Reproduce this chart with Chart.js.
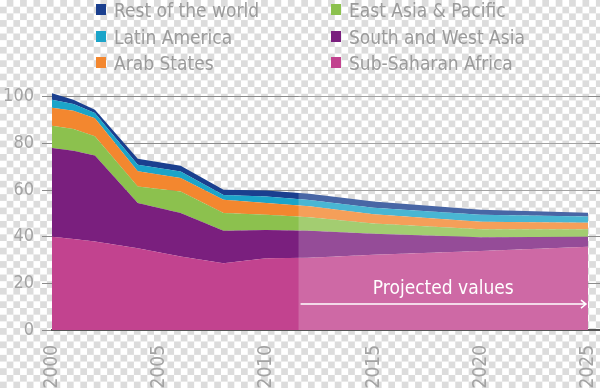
<!DOCTYPE html>
<html>
<head>
<meta charset="utf-8">
<script src="https://cdn.jsdelivr.net/npm/chart.js@4/dist/chart.umd.min.js"></script>
<style>
  html, body {
    margin: 0;
    padding: 0;
    width: 600px;
    height: 388px;
    overflow: hidden;
    background-color: #fff;
    background-image: repeating-conic-gradient(#dcdcdc 0% 25%, #ffffff 0% 50%);
    background-size: 13.4px 13.4px;
    font-family: "Liberation Sans Narrow", "DejaVu Sans Condensed", "Roboto", sans-serif;
  }
  #wrap { position: relative; width: 600px; height: 388px; }
  #chart { position: absolute; left: 0; top: 0; }
  .legend-col { position: absolute; top: -3px; }
  .legend-item {
    position: relative;
    height: 26.7px;
    line-height: 26.7px;
    font-size: 19px;
    color: #9b9b9b;
    padding-left: 18px;
    white-space: nowrap;
  }
  .legend-item span.box {
    position: absolute;
    left: 0;
    top: 7px;
    width: 10px;
    height: 11px;
  }
</style>
</head>
<body>
<div id="wrap">
  <canvas id="chart" width="600" height="388"></canvas>
  <div class="legend-col" id="legend-left" style="left:96px"></div>
  <div class="legend-col" id="legend-right" style="left:331px"></div>
</div>
<script>
// years with a visible break in the outline, actual data up to ~2011, projections after
const years = [2000, 2001, 2002, 2004, 2006, 2008, 2010, 2012, 2015, 2020, 2025];

// values per region (stacked from the bottom up)
const subSaharanAfrica = [40, 39, 37.9, 35, 31.5, 28.6, 30.8, 31, 32.2, 33.9, 35.7];
const southWestAsia    = [38, 37.8, 36.9, 19.4, 18.6, 13.9, 12.1, 11.5, 9.1, 5.9, 4.3];
const eastAsiaPacific  = [9.5, 9.3, 8.2, 7.1, 9.3, 7.6, 6.5, 5.8, 4.3, 3.4, 3.2];
const arabStates       = [7.7, 7.9, 7.8, 6.5, 5.7, 5.7, 5, 4.7, 4, 3.2, 2.8];
const latinAmerica     = [3.5, 2.9, 2.2, 2.8, 2.8, 2.1, 2.8, 2.7, 2.8, 3, 2.6];
const restOfWorld      = [2.8, 1.8, 1.4, 2.6, 2.5, 2.2, 2.6, 2.7, 2.7, 2.1, 1.7];

const seriesNames  = ["Sub-Saharan Africa", "South and West Asia", "East Asia & Pacific", "Arab States", "Latin America", "Rest of the world"];
const seriesColors = ["#c2438f", "#7a1f7e", "#8cc14e", "#f3872f", "#1ba4c9", "#1a3f8f"];
const seriesValues = [subSaharanAfrica, southWestAsia, eastAsiaPacific, arabStates, latinAmerica, restOfWorld];

const xTickYears = [2000, 2005, 2010, 2015, 2020, 2025];
const yTickValues = [0, 20, 40, 60, 80, 100];
const projectionStart = 2011.5;
const projectionEnd = 2025;
const projectionLabel = "Projected values";

// legend: two columns, same order as the original
const legendLeft = ["Rest of the world", "Latin America", "Arab States"];
const legendRight = ["East Asia & Pacific", "South and West Asia", "Sub-Saharan Africa"];

function fillLegend(id, names) {
    const col = document.getElementById(id);
    names.forEach(name => {
        const color = seriesColors[seriesNames.indexOf(name)];
        const div = document.createElement("div");
        div.className = "legend-item";
        div.innerHTML = `<span class="box" style="background:${color}"></span>${name}`;
        col.appendChild(div);
    });
}
fillLegend("legend-left", legendLeft);
fillLegend("legend-right", legendRight);

const fontFamily = '"Liberation Sans Narrow", "DejaVu Sans Condensed", "Roboto", sans-serif';

// lighten the projected part and put the arrow + label on it
const projectionPlugin = {
    id: "projection",
    afterDatasetsDraw(chart) {
        const {ctx, chartArea, scales: {x, y}} = chart;
        const x0 = x.getPixelForValue(projectionStart);
        const x1 = x.getPixelForValue(projectionEnd);
        ctx.save();
        ctx.globalCompositeOperation = "source-atop";
        ctx.fillStyle = "rgba(255,255,255,0.2)";
        ctx.fillRect(x0, chartArea.top, x1 - x0, chartArea.bottom - chartArea.top);
        ctx.restore();

        ctx.save();
        const ay = y.getPixelForValue(11.1);
        ctx.strokeStyle = "#ffffff";
        ctx.lineWidth = 1.5;
        ctx.beginPath();
        ctx.moveTo(x0 + 2, ay);
        ctx.lineTo(x1 - 2, ay);
        ctx.moveTo(x1 - 7, ay - 4);
        ctx.lineTo(x1 - 2, ay);
        ctx.lineTo(x1 - 7, ay + 4);
        ctx.stroke();

        ctx.fillStyle = "#ffffff";
        ctx.font = `19px ${fontFamily}`;
        ctx.textAlign = "center";
        ctx.textBaseline = "alphabetic";
        ctx.fillText(projectionLabel, (x0 + x1) / 2, y.getPixelForValue(15.4));
        ctx.restore();
    }
};

const datasets = seriesValues.map((vals, i) => ({
    label: seriesNames[i],
    data: vals.map((v, j) => ({x: years[j], y: v})),
    backgroundColor: seriesColors[i],
    borderColor: seriesColors[i],
    borderWidth: 0,
    pointRadius: 0,
    tension: 0,
    fill: i === 0 ? "origin" : "-1"
}));

new Chart(document.getElementById("chart").getContext("2d"), {
    type: "line",
    data: {datasets: datasets},
    plugins: [projectionPlugin],
    options: {
        responsive: false,
        animation: false,
        layout: {padding: {top: 85, right: 0, left: 0, bottom: 0}},
        plugins: {
            legend: {display: false},
            tooltip: {enabled: false}
        },
        scales: {
            x: {
                type: "linear",
                min: 2000,
                max: 2025.56,
                z: 1,
                grid: {display: false, drawTicks: false},
                border: {display: true, color: "#555555", width: 2},
                afterBuildTicks: scale => { scale.ticks = xTickYears.map(v => ({value: v})); },
                afterFit: scale => {
                    scale.height = 58;
                    scale.paddingLeft = 0;
                    scale.paddingRight = 0;
                },
                ticks: {
                    minRotation: 90,
                    maxRotation: 90,
                    padding: 15,
                    color: "#a3a3a3",
                    font: {family: fontFamily, size: 19},
                    callback: v => String(v)
                }
            },
            y: {
                stacked: true,
                min: 0,
                max: 105,
                grid: {color: "#8c8c8c", lineWidth: 1, tickLength: 10},
                border: {display: false},
                afterBuildTicks: scale => { scale.ticks = yTickValues.map(v => ({value: v})); },
                afterFit: scale => {
                    scale.width = 52;
                    scale.paddingTop = 0;
                    scale.paddingBottom = 0;
                },
                ticks: {
                    padding: 8,
                    color: "#a3a3a3",
                    font: {family: fontFamily, size: 18},
                    callback: v => String(v)
                }
            }
        }
    }
});
</script>
</body>
</html>
